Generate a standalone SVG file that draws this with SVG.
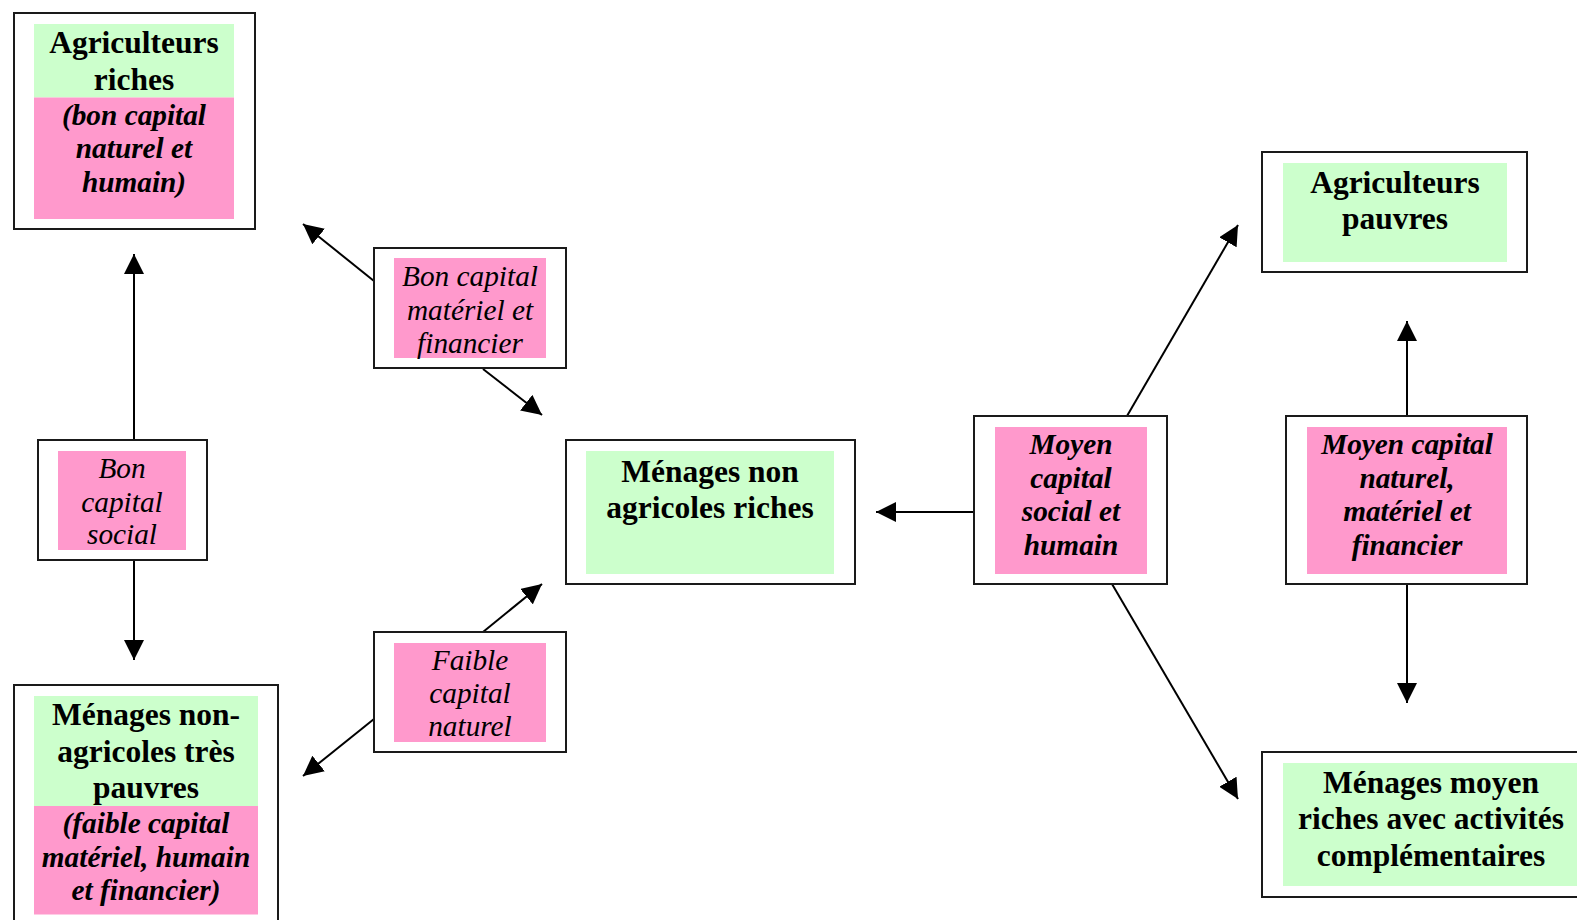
<svg xmlns="http://www.w3.org/2000/svg" width="1577" height="920" viewBox="0 0 1577 920">
<defs>
<marker id="arr" markerUnits="userSpaceOnUse" markerWidth="20" markerHeight="20" refX="20" refY="10" orient="auto">
<path d="M0,0 L20,10 L0,20 z" fill="#000"/>
</marker>
<style>
.outer{fill:#fff;stroke:#1a1a1a;stroke-width:2}
.g{fill:#ccffcc}
.p{fill:#ff99cc}
.tb{font-family:"Liberation Serif","Times New Roman",serif;font-weight:bold;font-size:31.5px;text-anchor:middle;fill:#000}
.tbi{font-family:"Liberation Serif","Times New Roman",serif;font-weight:bold;font-style:italic;font-size:29.3px;text-anchor:middle;fill:#000}
.ti{font-family:"Liberation Serif","Times New Roman",serif;font-style:italic;font-size:29.3px;text-anchor:middle;fill:#000}
.c{stroke:#000;stroke-width:2;fill:none;marker-end:url(#arr)}
</style>
</defs>
<rect width="1577" height="920" fill="#fff"/>
<g id="connectors">
<line class="c" x1="134" y1="440" x2="134" y2="254"/>
<line class="c" x1="134" y1="560" x2="134" y2="660"/>
<line class="c" x1="374" y1="281" x2="303" y2="224"/>
<line class="c" x1="483" y1="369" x2="542" y2="415"/>
<line class="c" x1="483" y1="632" x2="542" y2="584"/>
<line class="c" x1="374" y1="719" x2="303" y2="776"/>
<line class="c" x1="974" y1="512" x2="876" y2="512"/>
<line class="c" x1="1127" y1="416" x2="1238" y2="225"/>
<line class="c" x1="1112" y1="584" x2="1238" y2="799"/>
<line class="c" x1="1407" y1="416" x2="1407" y2="321"/>
<line class="c" x1="1407" y1="584" x2="1407" y2="703"/>
</g>
<g id="agriculteurs-riches">
<rect class="outer" x="14" y="13" width="241" height="216"/>
<rect class="g" x="34" y="24" width="200" height="73.5"/>
<rect class="p" x="34" y="97.5" width="200" height="121.5"/>
<text class="tb" x="134" y="53">Agriculteurs</text>
<text class="tb" x="134" y="90">riches</text>
<text class="tbi" x="134" y="125">(bon capital</text>
<text class="tbi" x="134" y="157.5">naturel et</text>
<text class="tbi" x="134" y="192">humain)</text>
</g>
<g id="bon-capital-social">
<rect class="outer" x="38" y="440" width="169" height="120"/>
<rect class="p" x="58" y="451" width="128" height="99"/>
<text class="ti" x="122" y="478">Bon</text>
<text class="ti" x="122" y="511.5">capital</text>
<text class="ti" x="122" y="544">social</text>
</g>
<g id="menages-tres-pauvres">
<rect class="outer" x="14" y="685" width="264" height="250"/>
<rect class="g" x="34" y="696" width="224" height="110"/>
<rect class="p" x="34" y="806" width="224" height="108.5"/>
<text class="tb" x="146" y="725">Ménages non-</text>
<text class="tb" x="146" y="761.5">agricoles très</text>
<text class="tb" x="146" y="798">pauvres</text>
<text class="tbi" x="146" y="833">(faible capital</text>
<text class="tbi" x="146" y="866.5">matériel, humain</text>
<text class="tbi" x="146" y="900">et financier)</text>
</g>
<g id="bon-capital-materiel">
<rect class="outer" x="374" y="248" width="192" height="120"/>
<rect class="p" x="394" y="258" width="152" height="100"/>
<text class="ti" x="470" y="286">Bon capital</text>
<text class="ti" x="470" y="319.5">matériel et</text>
<text class="ti" x="470" y="353">financier</text>
</g>
<g id="faible-capital-naturel">
<rect class="outer" x="374" y="632" width="192" height="120"/>
<rect class="p" x="394" y="643" width="152" height="99"/>
<text class="ti" x="470" y="670">Faible</text>
<text class="ti" x="470" y="703">capital</text>
<text class="ti" x="470" y="736">naturel</text>
</g>
<g id="menages-non-agricoles-riches">
<rect class="outer" x="566" y="440" width="289" height="144"/>
<rect class="g" x="586" y="451" width="248" height="123"/>
<text class="tb" x="710" y="482">Ménages non</text>
<text class="tb" x="710" y="518">agricoles riches</text>
</g>
<g id="moyen-capital-social">
<rect class="outer" x="974" y="416" width="193" height="168"/>
<rect class="p" x="995" y="427" width="152" height="147"/>
<text class="tbi" x="1071" y="454">Moyen</text>
<text class="tbi" x="1071" y="487.5">capital</text>
<text class="tbi" x="1071" y="521">social et</text>
<text class="tbi" x="1071" y="554.5">humain</text>
</g>
<g id="moyen-capital-naturel">
<rect class="outer" x="1286" y="416" width="241" height="168"/>
<rect class="p" x="1307" y="427" width="200" height="147"/>
<text class="tbi" x="1407" y="454">Moyen capital</text>
<text class="tbi" x="1407" y="487.5">naturel,</text>
<text class="tbi" x="1407" y="521">matériel et</text>
<text class="tbi" x="1407" y="554.5">financier</text>
</g>
<g id="agriculteurs-pauvres">
<rect class="outer" x="1262" y="152" width="265" height="120"/>
<rect class="g" x="1283" y="163" width="224" height="99"/>
<text class="tb" x="1395" y="193">Agriculteurs</text>
<text class="tb" x="1395" y="229">pauvres</text>
</g>
<g id="menages-moyen-riches">
<rect class="outer" x="1262" y="752" width="340" height="145"/>
<rect class="g" x="1283" y="763" width="296" height="123"/>
<text class="tb" x="1431" y="793">Ménages moyen</text>
<text class="tb" x="1431" y="829">riches avec activités</text>
<text class="tb" x="1431" y="866">complémentaires</text>
</g>
</svg>
